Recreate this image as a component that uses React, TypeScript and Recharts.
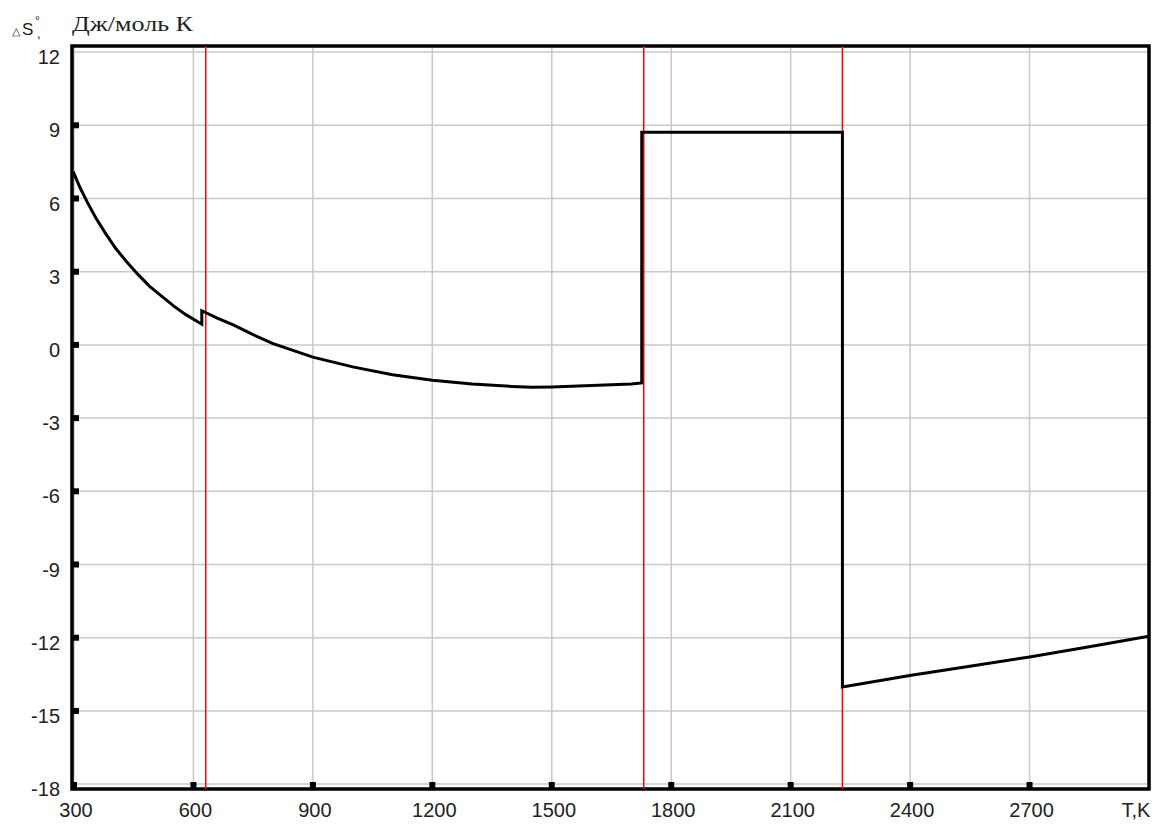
import {
  LineChart,
  Line,
  XAxis,
  YAxis,
  CartesianGrid,
  ReferenceLine,
  ReferenceArea,
  Customized,
} from "recharts";

// temperature, K
const temps = [
  298, 315, 335, 355, 380, 405, 430, 460, 490, 520, 550, 580, 621,
  621, 660, 700, 750, 800, 900, 1000, 1100, 1200, 1300, 1400, 1450, 1500, 1600, 1700, 1726,
  1726, 2230,
  2230, 2403, 2550, 2700, 2850, 3000,
];
// ΔS°, Дж/моль К
const dS = [
  7.1, 6.45, 5.8, 5.2, 4.55, 3.95, 3.45, 2.9, 2.4, 2.0, 1.6, 1.25, 0.85,
  1.4, 1.1, 0.82, 0.42, 0.05, -0.5, -0.9, -1.22, -1.45, -1.6, -1.7, -1.74, -1.72, -1.66, -1.6, -1.56,
  8.72, 8.72,
  -14.02, -13.54, -13.17, -12.79, -12.37, -11.94,
];
const xTicks = [300, 600, 900, 1200, 1500, 1800, 2100, 2400, 2700];
const yTicks = [-18, -15, -12, -9, -6, -3, 0, 3, 6, 9, 12];
const transitions = [631, 1731, 2230];

const data = temps.map((t, i) => ({ t, s: dS[i] }));

const tickFont = "'Liberation Sans', Arial, sans-serif";

const renderXTick = (props: any) => {
  const { x, y, payload } = props;
  return (
    <g key={`x-${payload.value}`}>
      <rect x={x - 3} y={y - 7} width={6} height={6} fill="#000" />
      <text x={x + 2} y={y + 28} textAnchor="middle" fontSize={20} fontFamily={tickFont} fill="#222">
        {payload.value}
      </text>
    </g>
  );
};

const renderYTick = (props: any) => {
  const { x, y, payload } = props;
  return (
    <g key={`y-${payload.value}`}>
      {payload.value !== -18 && payload.value !== 12 && (
        <rect x={x} y={y - 3} width={7} height={6} fill="#000" />
      )}
      <text x={x - 12} y={y + 12} textAnchor="end" fontSize={20} fontFamily={tickFont} fill="#222">
        {payload.value}
      </text>
    </g>
  );
};

const Labels = () => (
  <g>
    <text x={12} y={35} fontSize={11} fontFamily={tickFont} fill="#222">△</text>
    <text x={22} y={35} fontSize={17} fontFamily={tickFont} fill="#222">S</text>
    <text x={35} y={25} fontSize={12} fontFamily={tickFont} fill="#222">°</text>
    <text x={37} y={38} fontSize={13} fontFamily={tickFont} fill="#222">,</text>
    <text
      x={72}
      y={31}
      fontSize={21}
      fontFamily="'Liberation Serif', 'Times New Roman', serif"
      fill="#222"
      textLength={121}
      lengthAdjust="spacingAndGlyphs"
    >
      Дж/моль К
    </text>
    <text x={1136} y={817} textAnchor="middle" fontSize={20} fontFamily={tickFont} fill="#222">
      T,K
    </text>
  </g>
);

export default function App() {
  return (
    <div style={{ position: "absolute", left: 0, top: 0, background: "#fff" }}>
      <LineChart
        width={1168}
        height={824}
        data={data}
        margin={{ top: 46, right: 19, bottom: 0, left: 0 }}
      >
        <CartesianGrid stroke="#c8c8c8" strokeWidth={1.5} />
        <XAxis
          dataKey="t"
          type="number"
          domain={[295, 3000]}
          ticks={xTicks}
          interval={0}
          allowDataOverflow
          height={35}
          axisLine={false}
          tickLine={false}
          tickSize={0}
          tickMargin={0}
          tick={renderXTick}
        />
        <YAxis
          type="number"
          domain={[-18.2, 12.25]}
          ticks={yTicks}
          interval={0}
          allowDataOverflow
          width={72}
          axisLine={false}
          tickLine={false}
          tickSize={0}
          tickMargin={0}
          tick={renderYTick}
        />
        {transitions.map((t) => (
          <ReferenceLine key={t} x={t} stroke="#ff0000" strokeWidth={1.5} />
        ))}
        <Line
          dataKey="s"
          type="linear"
          stroke="#000"
          strokeWidth={3}
          dot={false}
          isAnimationActive={false}
        />
        <ReferenceArea
          x1={295}
          x2={3000}
          y1={-18.2}
          y2={12.25}
          fill="none"
          stroke="#000"
          strokeWidth={3.5}
          ifOverflow="visible"
        />
        <Customized component={Labels} />
      </LineChart>
    </div>
  );
}
